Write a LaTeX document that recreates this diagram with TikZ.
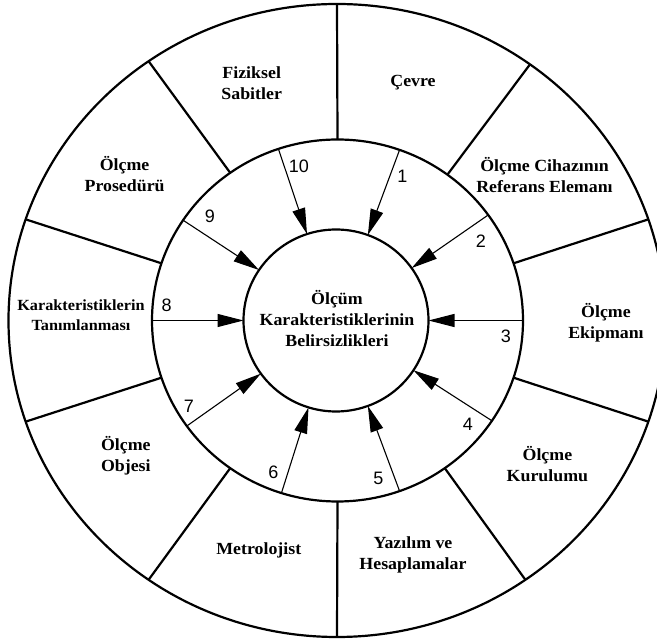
\documentclass[tikz,border=0pt]{standalone}
\usepackage{fontspec}
\setmainfont{Liberation Serif}[FakeStretch=1.05]
\newfontfamily\numfont{Liberation Sans}
\usetikzlibrary{shapes.geometric,arrows.meta}
\begin{document}
\begin{tikzpicture}[x=1pt,y=1pt,
  ring/.style={draw, ellipse, inner sep=0pt, outer sep=0pt, line width=2.2pt},
  divider/.style={line width=2.2pt},
  feed/.style={line width=1.1pt, -{Triangle[length=26pt,width=13pt]}},
  lbl/.style={align=center, inner sep=0pt, font=\fontsize{17}{21}\selectfont\bfseries},
  smalllbl/.style={align=center, inner sep=0pt, font=\fontsize{15.5}{20}\selectfont\bfseries},
  num/.style={inner sep=0pt, font=\numfont\fontsize{18}{20}\selectfont}]
\useasboundingbox (0,0) rectangle (657,643);
\clip (0,0) rectangle (657,643);
% rings
\node[ring, minimum width=657pt, minimum height=633pt] (outer) at (337,322.5) {};
\node[ring, minimum width=371pt, minimum height=362pt] (mid) at (337.5,322.5) {};
\node[ring, minimum width=185pt, minimum height=182pt] (inner) at (336,322.5) {};
% center text
\node[lbl] (ctext) at (337,324.5) {Ölçüm\\Karakteristiklerinin\\Belirsizlikleri};
% dividers of the outer ring
\foreach \a in {90,126,162,198,234,270,306,342,18,53}
  \draw[divider] (mid.\a) -- (outer.\a);
% arrows
\foreach \a in {70,35,0,-33,-70,-108,-145,180,147,109.5}
  \draw[feed] (mid.\a) -- (inner);
% numbers
\node[num] (n1) at (402.5,467) {1};
\node[num] (n2) at (481,402) {2};
\node[num] (n3) at (506,306.3) {3};
\node[num] (n4) at (468,219) {4};
\node[num] (n5) at (378.3,164.7) {5};
\node[num] (n6) at (273.3,170.5) {6};
\node[num] (n7) at (189,237) {7};
\node[num] (n8) at (166.7,338) {8};
\node[num] (n9) at (210,427) {9};
\node[num] (n10) at (298.8,476.7) {10};
% sector labels
\node[lbl] (fiz) at (251.7,559.7) {Fiziksel\\Sabitler};
\node[lbl] (cevre) at (413,560.8) {Çevre};
\node[lbl] (ref) at (544.5,468.1) {Ölçme Cihazının\\Referans Elemanı};
\node[lbl] (ekip) at (606,320.7) {Ölçme\\Ekipmanı};
\node[lbl] (kur) at (547.4,178.8) {Ölçme\\Kurulumu};
\node[lbl] (yaz) at (413,88.5) {Yazılım ve\\Hesaplamalar};
\node[lbl] (met) at (258.8,93) {Metrolojist};
\node[lbl] (obj) at (125.8,187.5) {Ölçme\\Objesi};
\node[smalllbl] (kar) at (81,327.4) {Karakteristiklerin\\Tanımlanması};
\node[lbl] (pros) at (124.6,469.3) {Ölçme\\Prosedürü};
\end{tikzpicture}
\end{document}
